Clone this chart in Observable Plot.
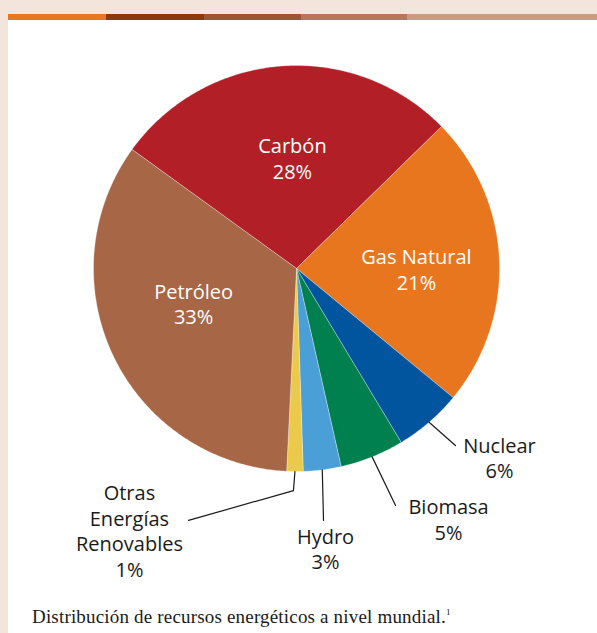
<!DOCTYPE html>
<html><head><meta charset="utf-8">
<script src="https://cdn.jsdelivr.net/npm/d3@7"></script>
<script src="https://cdn.jsdelivr.net/npm/@observablehq/plot@0.6"></script>
<style>
html,body{margin:0;padding:0;background:#f3e5dc;}
#page{position:relative;width:597px;height:633px;overflow:hidden;background:#f3e5dc;}
#bar{position:absolute;left:8px;top:14px;width:589px;height:6px;display:flex;}
#bar div{height:6px;}
#panel{position:absolute;left:8px;top:20px;width:589px;height:613px;background:#fff;}
#chart{position:absolute;left:0;top:0;}
#caption{position:absolute;left:32px;top:607px;font-family:"Liberation Serif","DejaVu Serif",serif;font-size:19px;line-height:20px;color:#1a1a1a;white-space:nowrap;letter-spacing:0.18px;}
#caption sup{font-size:9px;vertical-align:8px;line-height:0;}
</style></head>
<body>
<div id="page">
  <div id="bar"></div>
  <div id="panel"><div id="chart"></div></div>
  <div id="caption">Distribución de recursos energéticos a nivel mundial.<sup>1</sup></div>
</div>
<script>
// ---- data ----
const names = ["Carbón", "Gas Natural", "Nuclear", "Biomasa", "Hydro", "Otras Energías Renovables", "Petróleo"];
const displayNames = ["Carbón", "Gas Natural", "Nuclear", "Biomasa", "Hydro", "Otras\nEnergías\nRenovables", "Petróleo"];
const shares = [27.7, 23.3, 5.4, 5.1, 3.0, 1.3, 34.2];   // drawn slice sizes (%)
const percentLabels = ["28%", "21%", "6%", "5%", "3%", "1%", "33%"];
const colors = ["#b31f27", "#e8761f", "#00559e", "#00804f", "#4a9fd6", "#ebc94a", "#a76646"];
const barColors = ["#e87722", "#8a3a0d", "#9d5632", "#b8775b", "#cb9b80"];
const barWidths = [98, 98, 97, 106, 190];

// ---- layout ----
const startDeg = -54.1;
const inside = [true, true, false, false, false, false, true];
const labelPos = [[-0.02, -0.545], [0.591, 0.0], [1.0, 0.93], [0.749, 1.232], [0.143, 1.378], [-0.823, 1.29], [-0.507, 0.172]];
const leaderBends = [null, null, [[0.783, 0.872]], [[0.488, 1.167]], [[0.133, 1.241]], [[-0.015, 1.094], [-0.532, 1.241]], null];

// color bar
const bar = document.getElementById("bar");
barColors.forEach((c, i) => {
  const d = document.createElement("div");
  d.style.background = c; d.style.width = barWidths[i] + "px";
  bar.appendChild(d);
});

const arcs = d3.pie().sort(null).value(d => d)
  .startAngle(startDeg * Math.PI / 180)
  .endAngle(startDeg * Math.PI / 180 + 2 * Math.PI)(shares);

const slicePts = [];
arcs.forEach((a, i) => {
  slicePts.push({name: names[i], x: 0, y: 0});
  const n = Math.max(4, Math.ceil((a.endAngle - a.startAngle) / (Math.PI / 360)));
  for (let k = 0; k <= n; k++) {
    const t = a.startAngle + (a.endAngle - a.startAngle) * k / n;
    slicePts.push({name: names[i], x: Math.sin(t), y: -Math.cos(t)});
  }
  slicePts.push({name: names[i], x: 0, y: 0});
});

const leaders = [];
arcs.forEach((a, i) => {
  if (!leaderBends[i]) return;
  const m = (a.startAngle + a.endAngle) / 2;
  leaders.push({name: names[i], x: Math.sin(m), y: -Math.cos(m)});
  leaderBends[i].forEach(p => leaders.push({name: names[i], x: p[0], y: p[1]}));
});

const labels = names.map((n, i) => ({
  name: n, text: displayNames[i] + "\n" + percentLabels[i],
  x: labelPos[i][0], y: labelPos[i][1], inside: inside[i]
}));

const textOpts = {x: "x", y: "y", text: "text", fontSize: 20, lineHeight: 1.28, fontFamily: "Open Sans", fontWeight: 400};
const chart = Plot.plot({
  width: 589, height: 575,
  marginLeft: 85, marginRight: 98, marginTop: 45, marginBottom: 124,
  x: {domain: [-1, 1], axis: null},
  y: {domain: [-1, 1], reverse: true, axis: null},
  color: {domain: names, range: colors},
  style: {background: "transparent", overflow: "visible"},
  marks: [
    Plot.line(slicePts, {x: "x", y: "y", z: "name", fill: "name", stroke: "#fff", strokeWidth: 0.6, strokeOpacity: 0.5}),
    Plot.line(leaders, {x: "x", y: "y", z: "name", stroke: "#1a1a1a", strokeWidth: 1.2}),
    Plot.text(labels.filter(d => d.inside), {...textOpts, fill: "#fff"}),
    Plot.text(labels.filter(d => !d.inside), {...textOpts, fill: "#1a1a1a"})
  ]
});
document.getElementById("chart").appendChild(chart);
</script>
</body></html>
